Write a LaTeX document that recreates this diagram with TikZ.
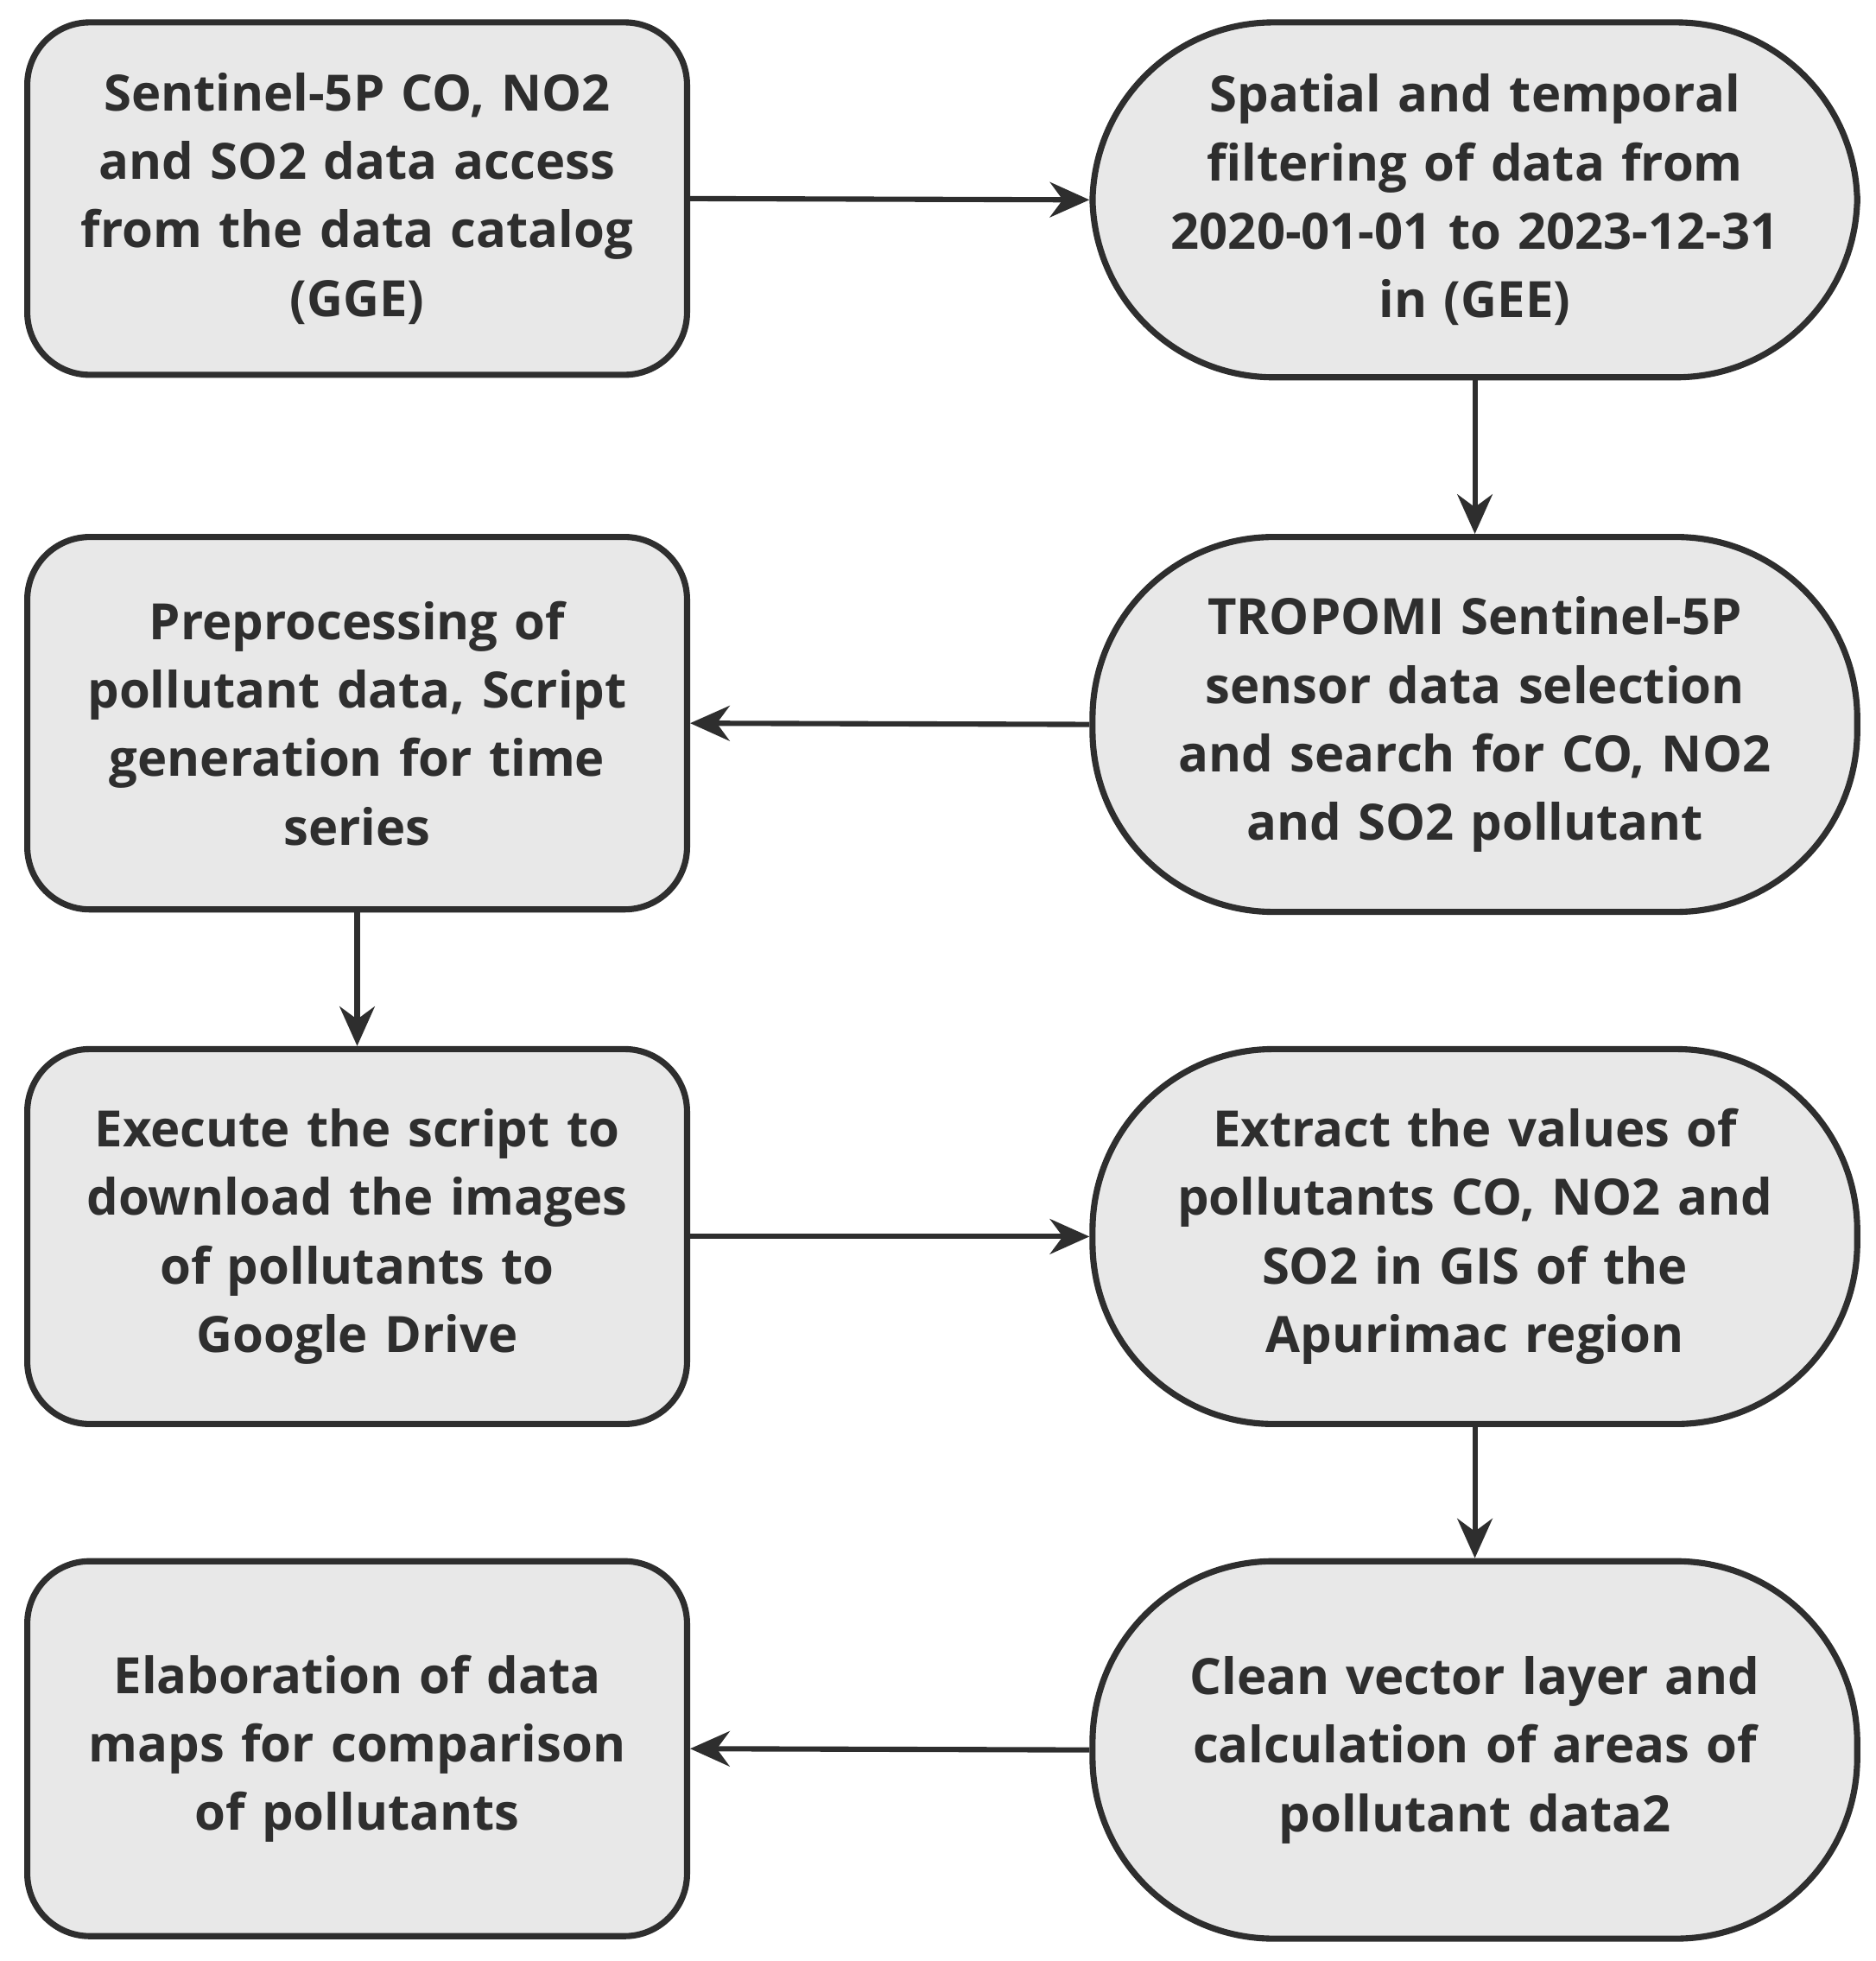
\documentclass[tikz,border=0pt]{standalone}
\usepackage{fontspec}
\setmainfont{Open Sans}
\usetikzlibrary{arrows.meta}
\definecolor{boxfill}{HTML}{E8E8E8}
\definecolor{ink}{HTML}{2E2E2E}
\begin{document}
\begin{tikzpicture}[x=0.01cm,y=-0.01cm,
  base/.style={draw=ink,line width=1.4pt,fill=boxfill,text=ink,align=center,
     font=\fontsize{11.4}{15.6}\selectfont\bfseries,inner sep=0pt},
  rbox/.style={base,rounded corners=0.5cm,minimum width=5.28cm,minimum height=2.9cm,text width=5.1cm},
  obox/.style={base,rounded corners=1.45cm,minimum width=6.12cm,minimum height=2.95cm,text width=5.5cm},
  arr/.style={draw=ink,line width=1.2pt,-{Stealth[length=9pt,width=8pt]}}]
\useasboundingbox (0,0) rectangle (1502,1570);
\node[rbox,minimum height=2.82cm] (a) at (286,159) {Sentinel-5P CO, NO2\\and SO2 data access\\from the data catalog\\(GGE)};
\node[obox,minimum height=2.84cm] (b) at (1181,160) {Spatial and temporal\\filtering of data from\\2020-01-01 to 2023-12-31\\in (GEE)};
\node[obox,minimum height=3.0cm] (c) at (1181,580) {TROPOMI Sentinel-5P\\sensor data selection\\and search for CO, NO2\\and SO2 pollutant};
\node[rbox,minimum height=2.98cm] (d) at (286,579) {Preprocessing of\\pollutant data, Script\\generation for time\\series};
\node[rbox,minimum height=3.0cm] (e) at (286,990) {Execute the script to\\download the images\\of pollutants to\\Google Drive};
\node[obox,minimum height=3.0cm] (f) at (1181,990) {Extract the values of\\pollutants CO, NO2 and\\SO2 in GIS of the\\Apurimac region};
\node[obox,minimum height=3.02cm] (g) at (1181,1401) {Clean vector layer and\\calculation of areas of\\pollutant data2};
\node[rbox,minimum height=3.0cm] (h) at (286,1400) {Elaboration of data\\maps for comparison\\of pollutants};
\draw[arr] (a.east) -- (b.west);
\draw[arr] (b.south) -- (c.north);
\draw[arr] (c.west) -- (d.east);
\draw[arr] (d.south) -- (e.north);
\draw[arr] (e.east) -- (f.west);
\draw[arr] (f.south) -- (g.north);
\draw[arr] (g.west) -- (h.east);
\end{tikzpicture}
\end{document}
